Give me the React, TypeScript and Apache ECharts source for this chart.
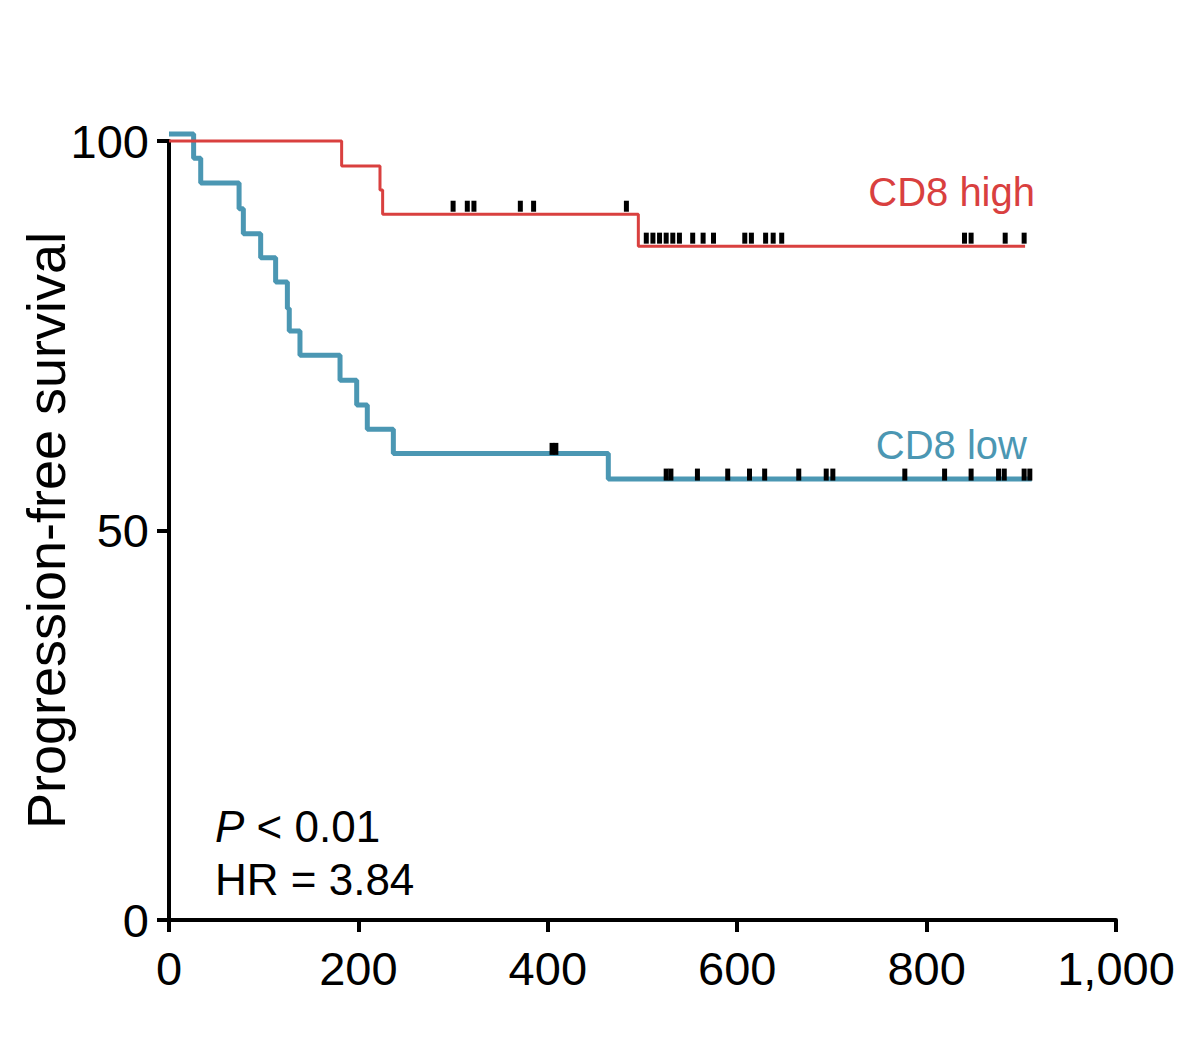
import React, { useEffect, useRef } from "react";
import * as echarts from "echarts";

// ---- Data ----
const xTicks = [0, 200, 400, 600, 800, 1000];
const yTicks = [0, 50, 100];

// CD8 low (blue) step curve
const lowStart = 100.9;
const lowEventTimes = [26, 33.5, 74, 78.5, 96.8, 112.6, 125, 127, 138.3, 180.6, 198.2, 209.4, 236.9, 463.9];
const lowEventValues = [97.8, 94.6, 91.3, 88.1, 85.0, 81.9, 78.5, 75.6, 72.5, 69.3, 66.1, 63.0, 59.9, 56.6];
const lowEndTime = 911;
const lowCensorTimes = [404.5, 408.5, 525, 530, 558, 590, 613, 629, 665, 694, 701, 777, 819, 847, 876, 882, 903, 909];

// CD8 high (red) step curve
const highStart = 100;
const highEventTimes = [182.3, 222.8, 225.6, 495.6];
const highEventValues = [96.8, 93.7, 90.6, 86.5];
const highEndTime = 904;
const highCensorTimes = [300, 315, 322, 371, 385, 483, 504, 511, 518, 525, 532, 539, 553, 564, 575, 608, 615, 630, 638, 647, 840, 847, 883, 903];

const RED = "#d9403f";
const BLUE = "#4b97b3";
const FONT = "'Liberation Sans', Arial, Helvetica, sans-serif";

function buildSteps(start: number, times: number[], values: number[], end: number) {
  const pts: number[][] = [[0, start]];
  let prev = start;
  times.forEach((t, i) => {
    pts.push([t, prev]);
    pts.push([t, values[i]]);
    prev = values[i];
  });
  pts.push([end, prev]);
  return pts;
}

function valueAt(start: number, times: number[], values: number[], t: number) {
  let v = start;
  times.forEach((et, i) => {
    if (et <= t) v = values[i];
  });
  return v;
}

export default function App() {
  const ref = useRef<HTMLDivElement>(null);

  useEffect(() => {
    document.body.style.margin = "0";
    if (!ref.current) return;
    const chart = echarts.init(ref.current, null, { renderer: "svg" });

    const lowLine = buildSteps(lowStart, lowEventTimes, lowEventValues, lowEndTime);
    const highLine = buildSteps(highStart, highEventTimes, highEventValues, highEndTime);
    const lowCensor = lowCensorTimes.map((t) => [t, valueAt(lowStart, lowEventTimes, lowEventValues, t)]);
    const highCensor = highCensorTimes.map((t) => [t, valueAt(highStart, highEventTimes, highEventValues, t)]);

    chart.setOption({
      animation: false,
      backgroundColor: "#ffffff",
      grid: { left: 169, right: 84, top: 141, bottom: 125, containLabel: false, outerBoundsMode: "none" },
      xAxis: {
        type: "value",
        min: xTicks[0],
        max: xTicks[xTicks.length - 1],
        interval: 200,
        splitLine: { show: false },
        axisLine: { show: true, onZero: false, lineStyle: { color: "#000", width: 4 } },
        axisTick: { show: true, length: 12, lineStyle: { color: "#000", width: 4 } },
        axisLabel: {
          color: "#000",
          fontSize: 47,
          fontFamily: FONT,
          margin: 25,
          formatter: (v: number) => (v >= 1000 ? v.toLocaleString("en-US") : String(v)),
        },
      },
      yAxis: {
        type: "value",
        min: yTicks[0],
        max: yTicks[yTicks.length - 1],
        interval: 50,
        splitLine: { show: false },
        axisLine: { show: true, onZero: false, lineStyle: { color: "#000", width: 4 } },
        axisTick: { show: true, length: 12, lineStyle: { color: "#000", width: 4 } },
        axisLabel: { color: "#000", fontSize: 47, fontFamily: FONT, margin: 20 },
        name: "Progression-free survival",
        nameLocation: "middle",
        nameGap: 96,
        nameMoveOverlap: false,
        nameTextStyle: { color: "#000", fontSize: 54, fontFamily: FONT },
      },
      series: [
        {
          name: "CD8 high",
          type: "line",
          data: highLine,
          showSymbol: false,
          symbol: "none",
          clip: false,
          lineStyle: { color: RED, width: 3 },
          z: 3,
        },
        {
          name: "CD8 low",
          type: "line",
          data: lowLine,
          showSymbol: false,
          symbol: "none",
          clip: false,
          lineStyle: { color: BLUE, width: 5 },
          z: 2,
        },
        {
          name: "CD8 high censored",
          type: "scatter",
          data: highCensor,
          symbol: "rect",
          symbolSize: [5, 11],
          symbolOffset: [0, -8],
          itemStyle: { color: "#000", opacity: 1 },
          z: 5,
        },
        {
          name: "CD8 low censored",
          type: "scatter",
          data: lowCensor,
          symbol: "rect",
          symbolSize: [5, 12],
          symbolOffset: [0, -4.5],
          itemStyle: { color: "#000", opacity: 1 },
          z: 5,
        },
      ],
      graphic: [
        {
          type: "text",
          right: 1200 - 1035,
          top: 172,
          style: { text: "CD8 high", fill: RED, fontSize: 40, fontFamily: FONT },
        },
        {
          type: "text",
          right: 1200 - 1027,
          top: 425,
          style: { text: "CD8 low", fill: BLUE, fontSize: 40, fontFamily: FONT },
        },
        {
          type: "text",
          left: 215,
          top: 804,
          style: {
            text: "{i|P} < 0.01",
            fill: "#000",
            fontSize: 44,
            fontFamily: FONT,
            rich: { i: { fontStyle: "italic", fontSize: 44, fontFamily: FONT, fill: "#000" } },
          },
        },
        {
          type: "text",
          left: 215,
          top: 857,
          style: { text: "HR = 3.84", fill: "#000", fontSize: 44, fontFamily: FONT },
        },
      ],
    });

    return () => chart.dispose();
  }, []);

  return <div ref={ref} style={{ width: 1200, height: 1045 }} />;
}
